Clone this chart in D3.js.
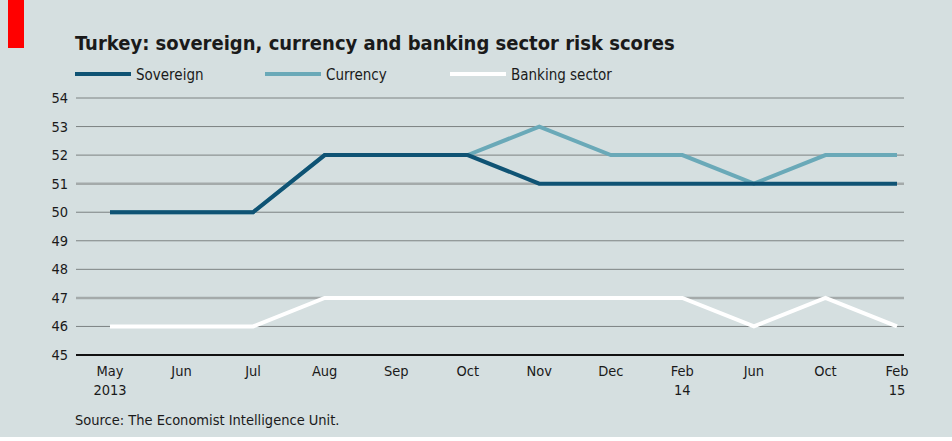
<!DOCTYPE html>
<html>
<head>
<meta charset="UTF-8">
<title>Turkey risk scores</title>
<script src="https://cdn.jsdelivr.net/npm/d3@7"></script>
<style>
body { margin: 0; background: #fff; }
text { font-family: "DejaVu Sans Condensed", "DejaVu Sans", sans-serif; fill: #1a1a1a; }
</style>
</head>
<body>
<svg id="chart" width="952" height="441"></svg>
<script>
var months = ["May", "Jun", "Jul", "Aug", "Sep", "Oct", "Nov", "Dec", "Feb", "Jun", "Oct", "Feb"];
var years = ["2013", "", "", "", "", "", "", "", "14", "", "", "15"];
var sovereign = [50, 50, 50, 52, 52, 52, 51, 51, 51, 51, 51, 51];
var currency = [50, 50, 50, 52, 52, 52, 53, 52, 52, 51, 52, 52];
var banking = [46, 46, 46, 47, 47, 47, 47, 47, 47, 46, 47, 46];
var yTicks = [45, 46, 47, 48, 49, 50, 51, 52, 53, 54];

var svg = d3.select("#chart");
svg.append("rect").attr("width", 952).attr("height", 437).attr("fill", "#d5dfe0");
svg.append("rect").attr("x", 8).attr("y", 0).attr("width", 16).attr("height", 48).attr("fill", "#ff0000");

svg.append("text").attr("x", 75).attr("y", 50).attr("font-size", 20).attr("font-weight", "bold")
  .text("Turkey: sovereign, currency and banking sector risk scores");

var x = d3.scalePoint().domain(d3.range(months.length)).range([110, 897]);
var y = d3.scaleLinear().domain([45, 54]).range([355, 98]);

// gridlines
svg.append("g").selectAll("line").data(yTicks.slice(1)).enter().append("line")
  .attr("x1", 76).attr("x2", 904)
  .attr("y1", function(d) { return y(d); }).attr("y2", function(d) { return y(d); })
  .attr("stroke", function(d) { return (d == 51 || d == 47) ? "#a4aaaa" : "#7c8282"; })
  .attr("stroke-width", function(d) { return (d == 51 || d == 47) ? 2.5 : 1; });
svg.append("line").attr("x1", 76).attr("x2", 904).attr("y1", y(45)).attr("y2", y(45))
  .attr("stroke", "#111").attr("stroke-width", 2);

svg.append("g").selectAll("text").data(yTicks).enter().append("text")
  .attr("x", 68).attr("y", function(d) { return y(d) + 5; })
  .attr("text-anchor", "end").attr("font-size", 14.5).text(function(d) { return d; });

var xl = svg.append("g").selectAll("g").data(months).enter().append("g");
xl.append("text").attr("x", function(d, i) { return x(i); }).attr("y", 376)
  .attr("text-anchor", "middle").attr("font-size", 14.5).text(function(d) { return d; });
xl.append("text").attr("x", function(d, i) { return x(i); }).attr("y", 395)
  .attr("text-anchor", "middle").attr("font-size", 14.5).text(function(d, i) { return years[i]; });

var line = d3.line().x(function(d, i) { return x(i); }).y(function(d) { return y(d); });
var series = [
  {name: "Banking sector", values: banking, color: "#ffffff"},
  {name: "Currency", values: currency, color: "#6aa9b8"},
  {name: "Sovereign", values: sovereign, color: "#0f5374"}
];
series.forEach(function(s) {
  svg.append("path").attr("d", line(s.values)).attr("fill", "none")
    .attr("stroke", s.color).attr("stroke-width", 4).attr("stroke-linejoin", "miter");
});

// legend
var legend = [
  {name: "Sovereign", color: "#0f5374", x: 75},
  {name: "Currency", color: "#6aa9b8", x: 265},
  {name: "Banking sector", color: "#ffffff", x: 450}
];
var lg = svg.append("g").selectAll("g").data(legend).enter().append("g");
lg.append("line").attr("x1", function(d) { return d.x; }).attr("x2", function(d) { return d.x + 56; })
  .attr("y1", 74).attr("y2", 74).attr("stroke", function(d) { return d.color; }).attr("stroke-width", 4);
lg.append("text").attr("x", function(d) { return d.x + 61; }).attr("y", 80)
  .attr("font-size", 15).text(function(d) { return d.name; });

svg.append("text").attr("x", 75).attr("y", 425).attr("font-size", 14.5)
  .text("Source: The Economist Intelligence Unit.");
</script>
</body>
</html>
